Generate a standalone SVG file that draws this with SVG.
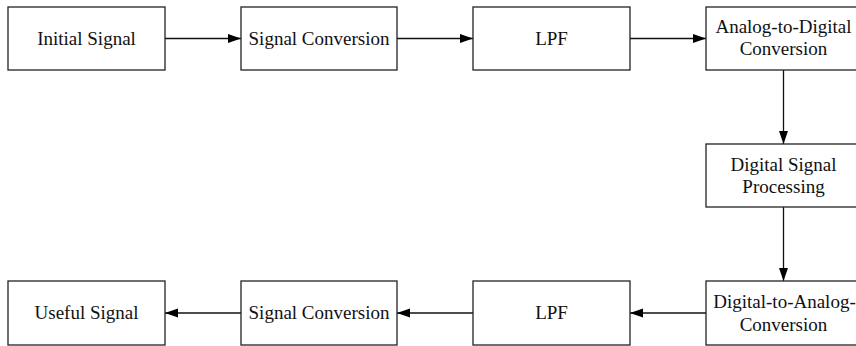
<svg xmlns="http://www.w3.org/2000/svg" width="856" height="346" viewBox="0 0 856 346">
<style>
.box{fill:#fff;stroke:#222;stroke-width:1.3}
.t{font-family:"Liberation Serif","Times New Roman",serif;font-size:19px;fill:#111;text-anchor:middle}
.c{stroke:#111;stroke-width:1.3;fill:none;marker-end:url(#ah)}
</style>
<defs>
<marker id="ah" markerUnits="userSpaceOnUse" markerWidth="14" markerHeight="10" refX="13" refY="4.5" orient="auto">
<path d="M0,0 L13,4.5 L0,9 Z" fill="#000"/>
</marker>
</defs>
<rect width="856" height="346" fill="#fff"/>
<g id="connectors">
<line class="c" x1="165" y1="38.5" x2="241" y2="38.5"/>
<line class="c" x1="397" y1="38.5" x2="473" y2="38.5"/>
<line class="c" x1="630" y1="38.5" x2="706" y2="38.5"/>
<line class="c" x1="783.5" y1="70" x2="783.5" y2="144"/>
<line class="c" x1="783.5" y1="207" x2="783.5" y2="281"/>
<line class="c" x1="706" y1="313" x2="630" y2="313"/>
<line class="c" x1="473" y1="313" x2="397" y2="313"/>
<line class="c" x1="241" y1="313" x2="165" y2="313"/>
</g>
<g id="initial-signal">
<rect class="box" x="8" y="7" width="157" height="63"/>
<text class="t" x="86.5" y="45">Initial Signal</text>
</g>
<g id="signal-conversion-1">
<rect class="box" x="241" y="7" width="156" height="63"/>
<text class="t" x="319" y="45">Signal Conversion</text>
</g>
<g id="lpf-1">
<rect class="box" x="473" y="7" width="157" height="63"/>
<text class="t" x="551.5" y="45">LPF</text>
</g>
<g id="adc">
<rect class="box" x="706" y="7" width="155" height="63"/>
<text class="t" x="783.5" y="33">Analog-to-Digital</text>
<text class="t" x="783.5" y="55">Conversion</text>
</g>
<g id="dsp">
<rect class="box" x="706" y="144" width="155" height="63"/>
<text class="t" x="783.5" y="171">Digital Signal</text>
<text class="t" x="783.5" y="193">Processing</text>
</g>
<g id="dac">
<rect class="box" x="706" y="281" width="155" height="64"/>
<text class="t" x="784.5" y="308">Digital-to-Analog-</text>
<text class="t" x="783.5" y="331">Conversion</text>
</g>
<g id="lpf-2">
<rect class="box" x="473" y="281" width="157" height="64"/>
<text class="t" x="551.5" y="319">LPF</text>
</g>
<g id="signal-conversion-2">
<rect class="box" x="241" y="281" width="156" height="64"/>
<text class="t" x="319" y="319">Signal Conversion</text>
</g>
<g id="useful-signal">
<rect class="box" x="8" y="281" width="157" height="64"/>
<text class="t" x="86.5" y="319">Useful Signal</text>
</g>
</svg>
